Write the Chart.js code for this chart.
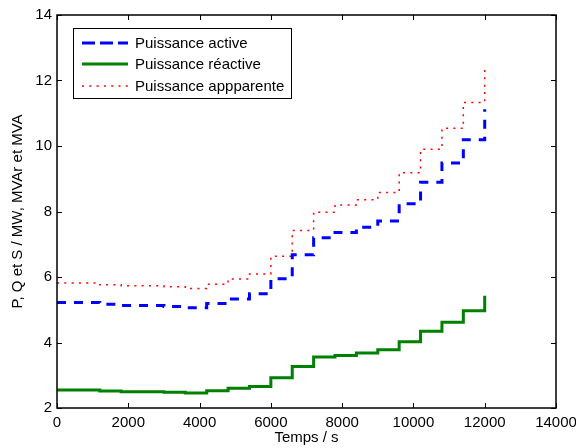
<!DOCTYPE html>
<html><head><meta charset="utf-8">
<script src="https://cdn.jsdelivr.net/npm/chart.js@4/dist/chart.umd.min.js"></script>
<style>html,body{margin:0;padding:0;background:#fff}canvas{display:block}</style>
</head><body>
<canvas id="c" width="576" height="448"></canvas>
<script>
// ---- data ----
const times = [0,600,1200,1800,2400,3000,3600,4200,4800,5400,6000,6600,7200,7800,8400,9000,9600,10200,10800,11400,12000];
const activePower   = [5.22,5.22,5.17,5.13,5.13,5.10,5.06,5.19,5.33,5.49,5.95,6.68,7.20,7.36,7.52,7.71,8.24,8.89,9.48,10.19,11.12];
const reactivePower = [2.55,2.55,2.52,2.50,2.50,2.48,2.46,2.53,2.60,2.66,2.92,3.27,3.56,3.60,3.68,3.78,4.02,4.34,4.62,4.97,5.43];
const apparentPower = [5.82,5.82,5.76,5.73,5.73,5.70,5.65,5.78,5.94,6.09,6.63,7.42,7.98,8.20,8.36,8.58,9.18,9.90,10.54,11.33,12.42];
const seriesLabels = ['Puissance active','Puissance réactive','Puissance appparente'];
const xTicks = [0,2000,4000,6000,8000,10000,12000,14000];
const yTicks = [2,4,6,8,10,12,14];
const xTitle = 'Temps / s';
const yTitle = 'P, Q et S / MW, MVAr et MVA';

const FONT = 'Liberation Sans, Arial, Helvetica, sans-serif';
const pts = arr => times.map((t,i)=>({x:t,y:arr[i]}));

const frame = {
  id:'frame',
  afterDatasetsDraw(chart){
    const {ctx, chartArea:a, scales:{x,y}} = chart;
    ctx.save();
    ctx.strokeStyle='#000'; ctx.lineWidth=1;
    ctx.beginPath();
    xTicks.forEach(v=>{
      const px=Math.round(x.getPixelForValue(v))+0.5;
      ctx.moveTo(px,a.bottom); ctx.lineTo(px,a.bottom-5);
      ctx.moveTo(px,a.top); ctx.lineTo(px,a.top+5);
    });
    yTicks.forEach(v=>{
      const py=Math.round(y.getPixelForValue(v))+0.5;
      ctx.moveTo(a.left,py); ctx.lineTo(a.left+5,py);
      ctx.moveTo(a.right,py); ctx.lineTo(a.right-5,py);
    });
    ctx.stroke();
    ctx.lineWidth=1.5;
    ctx.strokeRect(a.left,a.top,a.right-a.left,a.bottom-a.top);
    // legend
    const lx=73.5, ly=28.5, lw=218, lh=70;
    ctx.fillStyle='#fff'; ctx.fillRect(lx,ly,lw,lh);
    ctx.lineWidth=1; ctx.strokeStyle='#000'; ctx.strokeRect(lx,ly,lw,lh);
    const rows=[43,64,86];
    const dashes=[[13,5],[],[2,5.3]];
    chart.data.datasets.forEach((ds,i)=>{
      ctx.save();
      ctx.strokeStyle=ds.borderColor; ctx.lineWidth=ds.borderWidth;
      ctx.setLineDash(dashes[i]);
      ctx.beginPath(); ctx.moveTo(82,rows[i]); ctx.lineTo(128,rows[i]); ctx.stroke();
      ctx.restore();
      ctx.fillStyle='#000'; ctx.font='15px '+FONT; ctx.textBaseline='middle'; ctx.textAlign='left';
      ctx.fillText(ds.label,135,rows[i]+0.5);
    });
    ctx.restore();
  }
};

new Chart(document.getElementById('c'),{
  type:'line',
  data:{datasets:[
    {label:seriesLabels[0],data:pts(activePower),borderColor:'#0000ff',borderWidth:3,borderDash:[9,8],stepped:'before',pointRadius:0,fill:false},
    {label:seriesLabels[1],data:pts(reactivePower),borderColor:'#008000',borderWidth:3,stepped:'before',pointRadius:0,fill:false},
    {label:seriesLabels[2],data:pts(apparentPower),borderColor:'#ff0000',borderWidth:1.5,borderDash:[2,5.3],stepped:'before',pointRadius:0,fill:false}
  ]},
  options:{
    responsive:false, animation:false, devicePixelRatio:1,
    layout:{padding:{top:15,right:20,left:0,bottom:0}},
    plugins:{legend:{display:false},tooltip:{enabled:false}},
    scales:{
      x:{type:'linear',min:0,max:14000,
        afterBuildTicks(s){s.ticks=xTicks.map(v=>({value:v}));},
        afterFit(s){s.height=40;s.paddingRight=0;s.paddingLeft=0;},
        ticks:{font:{family:FONT,size:15},color:'#000',padding:6,maxRotation:0,autoSkip:false,callback:v=>String(v)},
        grid:{display:false,drawTicks:false},border:{display:false},
        title:{display:true,text:xTitle,color:'#000',font:{family:FONT,size:15},padding:{top:0,bottom:1}}
      },
      y:{type:'linear',min:2,max:14,
        afterBuildTicks(s){s.ticks=yTicks.map(v=>({value:v}));},
        afterFit(s){s.width=57;s.paddingTop=0;s.paddingBottom=0;},
        ticks:{font:{family:FONT,size:15},color:'#000',padding:5,autoSkip:false,callback:v=>String(v)},
        grid:{display:false,drawTicks:false},border:{display:false},
        title:{display:true,text:yTitle,color:'#000',font:{family:FONT,size:15},padding:{top:9,bottom:0}}
      }
    }
  },
  plugins:[frame]
});
</script>
</body></html>
